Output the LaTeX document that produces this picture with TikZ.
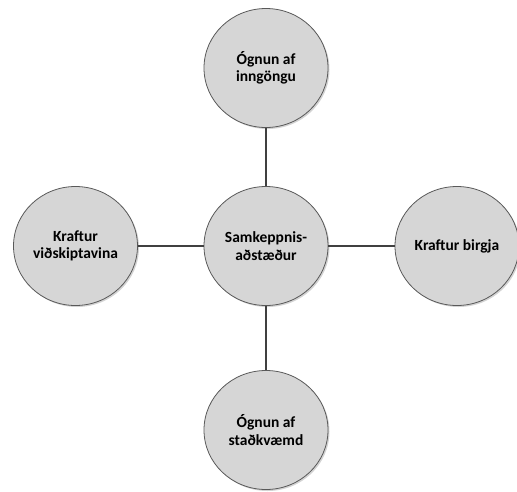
\documentclass[tikz,border=0pt]{standalone}
\usepackage{fontspec}
\setmainfont{Carlito}
\usepackage{tikz}
\usetikzlibrary{shapes.geometric,shadows}
\definecolor{GrisBorde}{RGB}{89,89,89}
\definecolor{GrisLinea}{RGB}{64,64,64}
\definecolor{GrisRelleno}{RGB}{214,214,214}

\begin{document}
\begin{tikzpicture}[x=1pt, y=-1pt,
    fuerza/.style={ellipse, draw=GrisBorde, line width=0.8pt, fill=GrisRelleno,
        minimum width=124pt, minimum height=119pt, inner sep=0pt,
        align=center, font=\bfseries\fontsize{15.5}{17.5}\selectfont,
        drop shadow={shadow xshift=1.5pt, shadow yshift=-1.5pt, opacity=.35}},
    enlace/.style={line width=1.8pt, GrisLinea}]
    \useasboundingbox (0,0) rectangle (517,491);

    \node[fuerza] (samk) at (266,246) {Samkeppnis-\\aðstæður};
    \node[fuerza] (inngangur) at (266,68) {Ógnun af\\inngöngu};
    \node[fuerza] (stadkvaemd) at (266,430) {Ógnun af\\staðkvæmd};
    \node[fuerza] (vidskipta) at (75.5,246) {Kraftur\\viðskiptavina};
    \node[fuerza] (birgjar) at (457,246) {Kraftur birgja};

    \draw[enlace] (samk) -- (inngangur);
    \draw[enlace] (samk) -- (stadkvaemd);
    \draw[enlace] (samk) -- (vidskipta);
    \draw[enlace] (samk) -- (birgjar);
\end{tikzpicture}
\end{document}
